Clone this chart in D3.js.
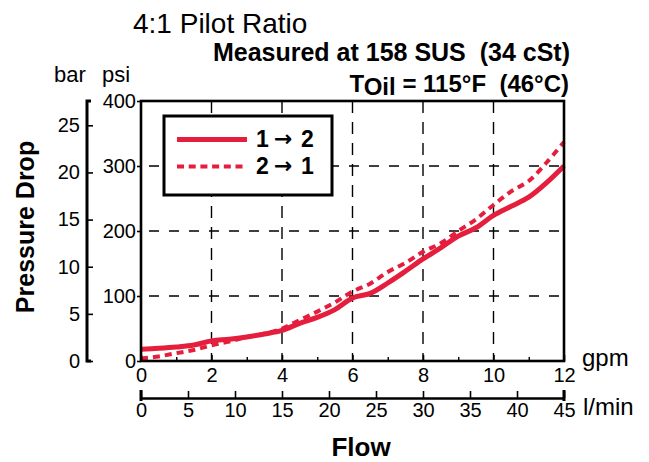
<!DOCTYPE html>
<html>
<head>
<meta charset="utf-8">
<script src="https://cdn.jsdelivr.net/npm/d3@7"></script>
<style>
  body { margin: 0; background: #fff; }
  svg { font-family: "Liberation Sans", Arial, sans-serif; }
  .lbl { white-space: pre; }
</style>
</head>
<body>
<div id="chart"></div>
<script>
// data (flow in gpm, pressure drop in psi)
var flowGpm = [0, 0.5, 1, 1.5, 2, 2.5, 3, 3.5, 4, 4.5, 5, 5.5, 6, 6.5, 7, 7.5, 8, 8.5, 9, 9.5, 10, 10.5, 11, 11.5, 12];
var psi12 = [18, 19.5, 21.5, 24.5, 31, 33.5, 37, 41.5, 47, 58, 67, 79, 97, 104, 120, 138, 157, 174, 192, 205, 224, 238, 252, 274, 300];
var psi21 = [4, 7, 12, 17, 24, 30, 37, 42, 50, 63, 76, 90, 107, 119, 137, 151, 168, 181, 200, 218, 240, 261, 277, 305, 337];
var seriesFrom = ["1", "2"];
var seriesTo = ["2", "1"];

var gpmTicks = [0, 2, 4, 6, 8, 10, 12];
var gpmMinor = [1, 3, 5, 7, 9, 11];
var lpmTicks = [0, 5, 10, 15, 20, 25, 30, 35, 40, 45];
var psiTicks = [0, 100, 200, 300, 400];
var barTicks = [0, 5, 10, 15, 20, 25];
var psiGrid = [100, 200, 300];
var gpmGrid = [2, 4, 6, 8, 10];

var svgWidth = 649;
var svgHeight = 462;
var red = "#e41e3c";

var plot = { left: 141, top: 101, right: 564, bottom: 361 };

var svg = d3.select("#chart")
  .append("svg")
  .attr("width", svgWidth)
  .attr("height", svgHeight);

var xScale = d3.scaleLinear().domain([0, 12]).range([plot.left, plot.right]);
var xLpm = d3.scaleLinear().domain([0, 45]).range([plot.left, plot.right]);
var yScale = d3.scaleLinear().domain([0, 400]).range([plot.bottom, plot.top]);
// 400 psi = 27.58 bar
var yBar = d3.scaleLinear().domain([0, 400 / 14.5038]).range([plot.bottom, plot.top]);

// dashed grid
svg.append("g").selectAll("line")
  .data(psiGrid)
  .enter()
  .append("line")
  .attr("x1", plot.left)
  .attr("x2", plot.right)
  .attr("y1", d => yScale(d))
  .attr("y2", d => yScale(d))
  .attr("stroke", "#000")
  .attr("stroke-width", 1.4)
  .attr("stroke-dasharray", "10,10")
  .attr("stroke-dashoffset", -8);

svg.append("g").selectAll("line")
  .data(gpmGrid)
  .enter()
  .append("line")
  .attr("x1", d => xScale(d))
  .attr("x2", d => xScale(d))
  .attr("y1", plot.top)
  .attr("y2", plot.bottom)
  .attr("stroke", "#000")
  .attr("stroke-width", 1.4)
  .attr("stroke-dasharray", "12,9");

// curves
var flowLine = d3.line()
  .x((d, i) => xScale(flowGpm[i]))
  .y(d => yScale(d))
  .curve(d3.curveCatmullRom);

svg.append("path")
  .datum(psi21)
  .attr("d", flowLine)
  .attr("fill", "none")
  .attr("stroke", red)
  .attr("stroke-width", 4)
  .attr("stroke-dasharray", "7,5");

svg.append("path")
  .datum(psi12)
  .attr("d", flowLine)
  .attr("fill", "none")
  .attr("stroke", red)
  .attr("stroke-width", 5);

// frame
svg.append("rect")
  .attr("x", plot.left)
  .attr("y", plot.top)
  .attr("width", plot.right - plot.left)
  .attr("height", plot.bottom - plot.top)
  .attr("fill", "none")
  .attr("stroke", "#000")
  .attr("stroke-width", 2.6);

// psi axis (left of frame)
var psiAxis = svg.append("g")
  .attr("transform", `translate(${plot.left}, 0)`)
  .call(d3.axisLeft(yScale).tickValues(psiTicks).tickSizeInner(4).tickSizeOuter(0).tickPadding(1));
psiAxis.select(".domain").remove();
psiAxis.selectAll("line").attr("stroke-width", 1.6);
psiAxis.selectAll("text")
  .attr("font-size", 20)
  .attr("fill", "#000");

// bar axis
var barAxis = svg.append("g")
  .attr("transform", "translate(87, 0)")
  .call(d3.axisLeft(yBar).tickValues(barTicks).tickSizeInner(-6).tickSizeOuter(0).tickPadding(7));
barAxis.select(".domain").remove();
barAxis.selectAll("line").attr("stroke-width", 1.6);
barAxis.selectAll("text")
  .attr("font-size", 20)
  .attr("fill", "#000");
barAxis.append("path")
  .attr("d", `M4,${plot.top}H0V${plot.bottom}H4`)
  .attr("fill", "none")
  .attr("stroke", "#000")
  .attr("stroke-width", 3);

// gpm axis (bottom of frame)
var gpmAxis = svg.append("g")
  .attr("transform", `translate(0, ${plot.bottom})`)
  .call(d3.axisBottom(xScale).tickValues(gpmTicks).tickSizeInner(-6).tickSizeOuter(0).tickPadding(7));
gpmAxis.select(".domain").remove();
gpmAxis.selectAll("line").attr("stroke-width", 1.6);
gpmAxis.selectAll("text")
  .attr("font-size", 20)
  .attr("fill", "#000");

var minorAxis = svg.append("g")
  .attr("transform", `translate(0, ${plot.bottom})`)
  .call(d3.axisBottom(xScale).tickValues(gpmMinor).tickSizeInner(-4).tickSizeOuter(0).tickFormat(""));
minorAxis.select(".domain").remove();
minorAxis.selectAll("line").attr("stroke-width", 1.4);

// l/min axis
var lpmAxis = svg.append("g")
  .attr("transform", "translate(0, 398)")
  .call(d3.axisBottom(xLpm).tickValues(lpmTicks).tickSizeInner(-7).tickSizeOuter(0).tickPadding(5));
lpmAxis.select(".domain")
  .attr("stroke-width", 2.4);
lpmAxis.selectAll("line").attr("stroke-width", 1.6);
lpmAxis.append("path")
  .attr("d", `M${plot.left},-8V3M${plot.right},-8V3`)
  .attr("stroke", "#000")
  .attr("stroke-width", 3);
lpmAxis.selectAll("text")
  .attr("font-size", 20)
  .attr("fill", "#000");

// legend
var legend = svg.append("g");
legend.append("rect")
  .attr("x", 164)
  .attr("y", 116)
  .attr("width", 168)
  .attr("height", 79)
  .attr("fill", "#fff")
  .attr("stroke", "#000")
  .attr("stroke-width", 3);

var legendRows = legend.selectAll("g.row")
  .data(seriesFrom)
  .enter()
  .append("g")
  .attr("class", "row")
  .attr("transform", (d, i) => `translate(0, ${139.5 + i * 27})`);

legendRows.append("line")
  .attr("x1", 177)
  .attr("x2", 247)
  .attr("stroke", red)
  .attr("stroke-width", (d, i) => i === 0 ? 5 : 4)
  .attr("stroke-dasharray", (d, i) => i === 0 ? null : "7,4.7");

var legendText = legendRows.append("text")
  .attr("x", 256)
  .attr("y", 7)
  .attr("font-size", 23)
  .attr("font-weight", "bold");
legendText.append("tspan").text(d => d);
legendText.append("tspan")
  .attr("x", 274)
  .attr("dy", -1)
  .attr("font-family", "DejaVu Sans")
  .attr("font-size", 22)
  .text("\u2192");
legendText.append("tspan")
  .attr("x", 301)
  .attr("dy", 1)
  .text((d, i) => seriesTo[i]);

// titles and labels
svg.append("text")
  .attr("x", 133)
  .attr("y", 33)
  .attr("font-size", 28)
  .text("4:1 Pilot Ratio");

svg.append("text")
  .attr("class", "lbl")
  .attr("x", 570)
  .attr("y", 61)
  .attr("text-anchor", "end")
  .attr("font-size", 25)
  .attr("font-weight", "bold")
  .text("Measured at 158 SUS  (34 cSt)");

var tOil = svg.append("text")
  .attr("class", "lbl")
  .attr("x", 569)
  .attr("y", 92)
  .attr("text-anchor", "end")
  .attr("font-size", 24)
  .attr("font-weight", "bold");
tOil.append("tspan").text("T");
tOil.append("tspan").attr("dy", 3).text("Oil");
tOil.append("tspan").attr("dy", -3).text(" = 115\u00b0F  (46\u00b0C)");

svg.append("text")
  .attr("x", 54)
  .attr("y", 82)
  .attr("font-size", 22)
  .text("bar");

svg.append("text")
  .attr("x", 102)
  .attr("y", 82)
  .attr("font-size", 22)
  .text("psi");

svg.append("text")
  .attr("x", 582)
  .attr("y", 366)
  .attr("font-size", 24)
  .text("gpm");

svg.append("text")
  .attr("x", 583)
  .attr("y", 415)
  .attr("font-size", 24)
  .text("l/min");

svg.append("text")
  .attr("x", 361)
  .attr("y", 456)
  .attr("text-anchor", "middle")
  .attr("font-size", 26)
  .attr("font-weight", "bold")
  .text("Flow");

svg.append("text")
  .attr("transform", "translate(34, 227) rotate(-90)")
  .attr("text-anchor", "middle")
  .attr("font-size", 25)
  .attr("font-weight", "bold")
  .text("Pressure Drop");
</script>
</body>
</html>
